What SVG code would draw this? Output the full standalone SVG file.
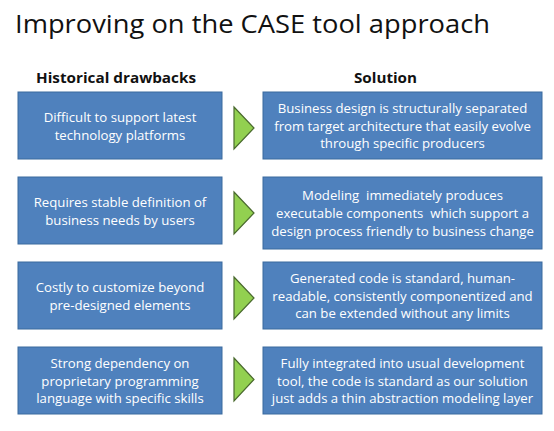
<svg xmlns="http://www.w3.org/2000/svg" width="554" height="431" viewBox="0 0 554 431">
<style>
.title{font-family:"Open Sans","Liberation Sans",sans-serif;font-size:25px;fill:#111}
.hdr{font-family:"Open Sans","Liberation Sans",sans-serif;font-size:15px;font-weight:bold;fill:#111}
.box{fill:#4F81BD;stroke:#3A6A9E;stroke-width:1}
.t{font-family:"Open Sans","Liberation Sans",sans-serif;font-size:13.2px;fill:#fff;text-anchor:middle;white-space:pre}
.arr{fill:#92D050;stroke:#4A6A2E;stroke-width:1.2;stroke-linejoin:miter}
</style>
<rect width="554" height="431" fill="#fff"/>
<text class="title" x="15" y="33" textLength="475" lengthAdjust="spacingAndGlyphs">Improving on the CASE tool approach</text>
<text class="hdr" x="36" y="83" textLength="160" lengthAdjust="spacingAndGlyphs">Historical drawbacks</text>
<text class="hdr" x="354" y="83" textLength="63" lengthAdjust="spacingAndGlyphs">Solution</text>

<g id="d1"><rect class="box" x="18" y="92" width="204" height="67"/>
<text class="t" x="120" y="122">Difficult to support latest</text>
<text class="t" x="120" y="139.5">technology platforms</text></g>
<g id="d2"><rect class="box" x="18" y="177" width="204" height="67"/>
<text class="t" x="120" y="207">Requires stable definition of</text>
<text class="t" x="120" y="224.5">business needs by users</text></g>
<g id="d3"><rect class="box" x="18" y="262" width="204" height="67"/>
<text class="t" x="120" y="292">Costly to customize beyond</text>
<text class="t" x="120" y="309.5">pre-designed elements</text></g>
<g id="d4"><rect class="box" x="18" y="347" width="204" height="67"/>
<text class="t" x="120" y="368">Strong dependency on</text>
<text class="t" x="120" y="385.5">proprietary programming</text>
<text class="t" x="120" y="403">language with specific skills</text></g>

<g id="s1"><rect class="box" x="263" y="92" width="279" height="67"/>
<text class="t" x="402.5" y="113">Business design is structurally separated</text>
<text class="t" x="402.5" y="130.5">from target architecture that easily evolve</text>
<text class="t" x="402.5" y="148">through specific producers</text></g>
<g id="s2"><rect class="box" x="263" y="177" width="279" height="72"/>
<text class="t" x="402.5" y="200">Modeling  immediately produces</text>
<text class="t" x="402.5" y="218">executable components  which support a</text>
<text class="t" x="402.5" y="236">design process friendly to business change</text></g>
<g id="s3"><rect class="box" x="263" y="262" width="279" height="67"/>
<text class="t" x="402.5" y="283">Generated code is standard, human-</text>
<text class="t" x="402.5" y="300.5">readable, consistently componentized and</text>
<text class="t" x="402.5" y="318">can be extended without any limits</text></g>
<g id="s4"><rect class="box" x="263" y="347" width="279" height="67"/>
<text class="t" x="402.5" y="368">Fully integrated into usual development</text>
<text class="t" x="402.5" y="385.5">tool, the code is standard as our solution</text>
<text class="t" x="402.5" y="403">just adds a thin abstraction modeling layer</text></g>

<g id="connectors">
<polygon class="arr" points="234,107 254,128 234,149"/>
<polygon class="arr" points="234,192 254,213 234,234"/>
<polygon class="arr" points="234,277 254,298 234,319"/>
<polygon class="arr" points="234,358 254,379.5 234,401"/>
</g>
</svg>
